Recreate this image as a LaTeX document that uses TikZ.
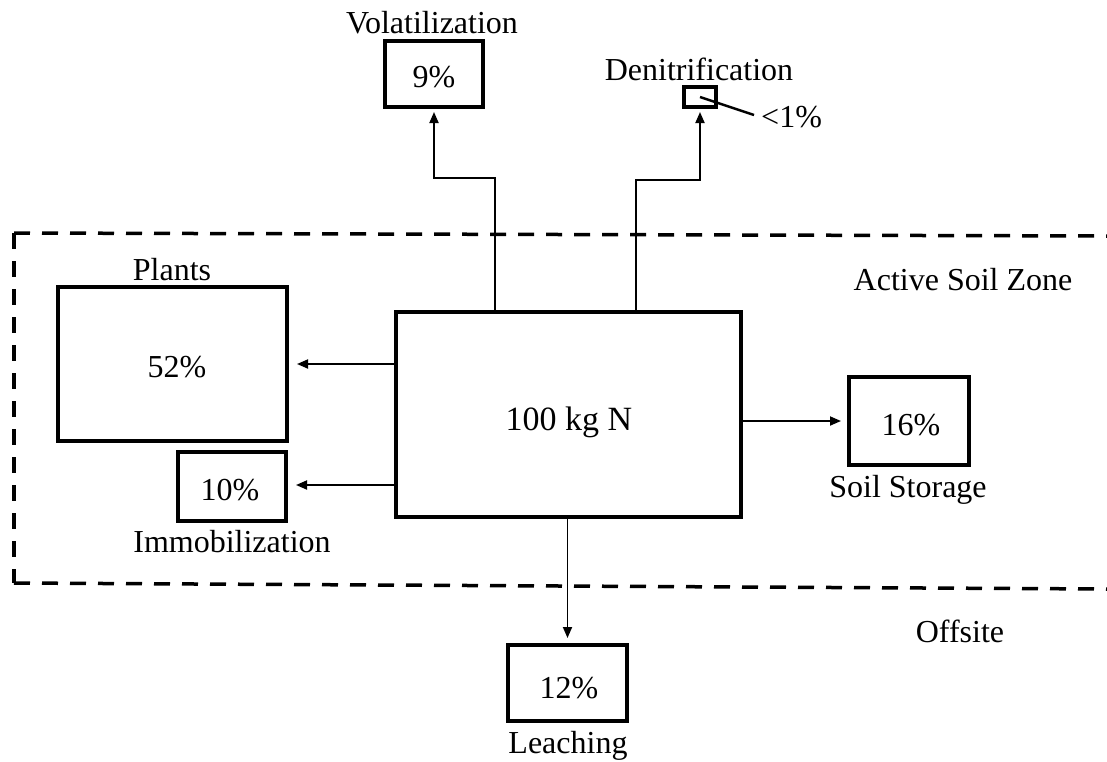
\documentclass[tikz,border=0pt]{standalone}
\usepackage{fontspec}
\setmainfont{Liberation Serif}
\usetikzlibrary{arrows.meta}
\begin{document}
\begin{tikzpicture}[x=1pt,y=-1pt,
  box/.style={draw, line width=3.8pt, inner sep=0pt, outer sep=0pt, rectangle},
  lbl/.style={anchor=base, inner sep=0pt, font=\fontsize{32}{36}\selectfont},
  biglbl/.style={anchor=base, inner sep=0pt, font=\fontsize{34}{38}\selectfont},
  flow/.style={line width=1.8pt, -{Triangle[length=11pt,width=9pt]}},
  zone/.style={line width=3.5pt, dash pattern=on 16pt off 12pt}]
\useasboundingbox (0,0) rectangle (1107,761);
\fill[white] (0,0) rectangle (1107,761);

% boxes
\node[box, minimum width=345pt, minimum height=205pt] (main) at (568.5,414.5) {};
\node[box, minimum width=229pt, minimum height=154pt] (plants) at (172.5,364) {};
\node[box, minimum width=108pt, minimum height=69pt] (immob) at (232,486.5) {};
\node[box, minimum width=120pt, minimum height=88pt] (soil) at (909,421) {};
\node[box, minimum width=119pt, minimum height=76pt] (leach) at (567.5,683) {};
\node[box, minimum width=98pt, minimum height=66pt] (vol) at (434,74) {};
\node[box, minimum width=32pt, minimum height=20pt] (den) at (700,97) {};

% texts
\node[biglbl] (tmain) at (569,430) {100 kg N};
\node[lbl] (tplants) at (172,280) {Plants};
\node[lbl] (pplants) at (177,377) {52\%};
\node[lbl] (pimmob) at (230,500) {10\%};
\node[lbl] (timmob) at (232,552) {Immobilization};
\node[lbl] (psoil) at (911,435) {16\%};
\node[lbl] (tsoil) at (908,497) {Soil Storage};
\node[lbl] (pleach) at (569,698) {12\%};
\node[lbl] (tleach) at (568,753) {Leaching};
\node[lbl] (pvol) at (434,87) {9\%};
\node[lbl] (tvol) at (432,33) {Volatilization};
\node[lbl] (tden) at (699,80) {Denitrification};
\node[lbl, anchor=base west] (pden) at (761,127) {<1\%};
\node[lbl] (tzone) at (963,290) {Active Soil Zone};
\node[lbl] (toff) at (960,642) {Offsite};

% zone border
\draw[zone] (14,233) -- (1107,236);
\draw[zone] (14,233) -- (14,583);
\draw[zone] (14,583) -- (1107,589);

% connectors
\draw[flow, shorten >=10pt] (main.west |- plants.east) -- (plants.east);
\draw[flow, shorten >=10pt] (main.west |- 0,485) -- (immob.east |- 0,485);
\draw[flow, shorten >=8pt] (main.east |- soil.west) -- (soil.west);
\draw[flow, shorten >=7pt] (main.south -| leach.north) -- (leach.north);
\coordinate (vturn) at (495,178);
\coordinate (dturn) at (636,180);
\draw[flow, shorten >=5pt] (vturn |- main.north) -- (vturn) -| (vol.south);
\draw[flow, shorten >=5pt] (dturn |- main.north) -- (dturn) -| (den.south);
\coordinate (lead) at (754,115);
\draw[line width=2.4pt] (den.center) -- (lead);
\end{tikzpicture}
\end{document}
